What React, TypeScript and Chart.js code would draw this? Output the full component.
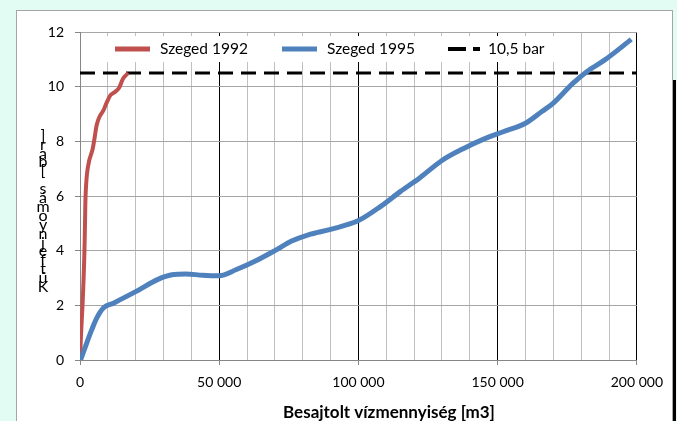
import { useEffect, useRef } from "react";
import { Chart, registerables } from "chart.js";

Chart.register(...registerables);

// ---------- data ----------
const seriesNames = ["Szeged 1992", "Szeged 1995", "10,5 bar"];
const xTitle = "Besajtolt vízmennyiség [m3]";
const yTitle = "Kútfejnyomás [bar]";

const xMin = 0;
const xMax = 200000;
const xMinorStep = 10000;
const xMajorStep = 50000;
const yMin = 0;
const yMax = 12;
const yStep = 2;

const red1992X = [0, 400, 900, 1300, 1600, 1800, 2000, 2500, 3300, 4500, 5200, 6000, 7000, 8500, 9500, 11000, 12500, 14000, 15500, 17300];
const red1992Y = [0, 1, 2, 3, 4, 5, 6, 6.8, 7.3, 7.7, 8.1, 8.6, 8.9, 9.15, 9.4, 9.7, 9.8, 9.95, 10.3, 10.5];

const blue1995X = [200, 2400, 4200, 6000, 8400, 12000, 20000, 28000, 33000, 38000, 44000, 50000, 56000, 63000, 70000, 76000, 82000, 90000, 100000, 108000, 115000, 122000, 130000, 138000, 145000, 152000, 160000, 166000, 170000, 177000, 182000, 188500, 198000];
const blue1995Y = [0, 0.62, 1.1, 1.53, 1.9, 2.08, 2.5, 2.95, 3.12, 3.15, 3.1, 3.08, 3.3, 3.62, 4.0, 4.35, 4.58, 4.78, 5.1, 5.62, 6.16, 6.66, 7.3, 7.75, 8.08, 8.35, 8.66, 9.1, 9.4, 10.12, 10.55, 10.98, 11.73];

const thresholdX = [0, 200000];
const thresholdY = [10.5, 10.5];

// ---------- styles ----------
const RED = "#c0504d";
const BLUE = "#4f81bd";
const FONT = "Lato, 'Open Sans', sans-serif";

const toPoints = (xs: number[], ys: number[]) => xs.map((x, i) => ({ x, y: ys[i] }));

const fmtX = (v: number) => (v === 0 ? "0" : `${Math.round(v / 1000)} 000`);

const overlayPlugin = {
  id: "overlay",
  afterDraw(chart: any) {
    const ctx: CanvasRenderingContext2D = chart.ctx;
    const area = chart.chartArea;
    ctx.save();

    // legend box (inside plot area)
    const ly = area.top + 17;
    ctx.fillStyle = "#ffffff";
    ctx.fillRect(area.left + 20, area.top + 4, 460, 26);

    const items = [
      { x0: area.left + 35, x1: area.left + 70, tx: area.left + 80, color: RED, w: 5, dash: [] as number[] },
      { x0: area.left + 202, x1: area.left + 237, tx: area.left + 247, color: BLUE, w: 5, dash: [] as number[] },
      { x0: area.left + 368, x1: area.left + 400, tx: area.left + 408, color: "#000000", w: 4, dash: [18, 7] },
    ];
    items.forEach((it, i) => {
      ctx.beginPath();
      ctx.strokeStyle = it.color;
      ctx.lineWidth = it.w;
      ctx.lineCap = "butt";
      ctx.setLineDash(it.dash);
      ctx.moveTo(it.x0, ly);
      ctx.lineTo(it.x1, ly);
      ctx.stroke();
      ctx.setLineDash([]);
      ctx.fillStyle = "#000000";
      ctx.font = `15.5px ${FONT}`;
      ctx.textAlign = "left";
      ctx.textBaseline = "middle";
      ctx.fillText(seriesNames[i], it.tx, ly);
    });

    // x-axis title
    ctx.font = `bold 17px ${FONT}`;
    ctx.textAlign = "center";
    ctx.textBaseline = "middle";
    ctx.fillStyle = "#000000";
    ctx.fillText(xTitle, area.left + 309, area.bottom + 53);

    // y-axis title: upright letters stacked from bottom to top
    ctx.font = `16px ${FONT}`;
    ctx.textAlign = "center";
    ctx.textBaseline = "alphabetic";
    const chars = Array.from(yTitle);
    const baseY = area.bottom - 68;
    const step = 8.9;
    chars.forEach((ch, i) => {
      ctx.fillText(ch, area.left - 37, baseY - i * step);
    });

    ctx.restore();
  },
};

export default function App() {
  const canvasRef = useRef<HTMLCanvasElement | null>(null);

  useEffect(() => {
    if (!canvasRef.current) return;
    const chart = new Chart(canvasRef.current, {
      type: "scatter",
      data: {
        datasets: [
          {
            label: seriesNames[2],
            data: toPoints(thresholdX, thresholdY),
            showLine: true,
            borderColor: "#000000",
            borderWidth: 3,
            borderDash: [15, 8],
            pointRadius: 0,
            order: 3,
          },
          {
            label: seriesNames[0],
            data: toPoints(red1992X, red1992Y),
            showLine: true,
            borderColor: RED,
            borderWidth: 4,
            pointRadius: 0,
            tension: 0.3,
            order: 2,
          },
          {
            label: seriesNames[1],
            data: toPoints(blue1995X, blue1995Y),
            showLine: true,
            borderColor: BLUE,
            borderWidth: 5,
            pointRadius: 0,
            cubicInterpolationMode: "monotone",
            order: 1,
          },
        ],
      },
      options: {
        responsive: false,
        maintainAspectRatio: false,
        animation: false,
        layout: { padding: { top: 22, right: 35, left: 0, bottom: 0 } },
        plugins: {
          legend: { display: false },
          tooltip: { enabled: false },
        },
        scales: {
          x: {
            type: "linear",
            min: xMin,
            max: xMax,
            ticks: {
              stepSize: xMinorStep,
              autoSkip: false,
              maxRotation: 0,
              color: "#000000",
              font: { family: FONT, size: 14 },
              padding: 9,
              callback: (v: any) => (Number(v) % xMajorStep === 0 ? fmtX(Number(v)) : ""),
            },
            grid: {
              color: (c: any) => (c.tick && c.tick.value % xMajorStep === 0 ? "#000000" : "#bfbfbf"),
              tickColor: (c: any) => (c.tick && c.tick.value % xMajorStep === 0 ? "#868686" : "rgba(0,0,0,0)"),
              tickLength: 5,
              lineWidth: 1,
            },
            border: { color: "#868686", width: 1 },
            afterFit: (s: any) => {
              s.height = 61;
            },
          },
          y: {
            type: "linear",
            min: yMin,
            max: yMax,
            ticks: {
              stepSize: yStep,
              color: "#000000",
              font: { family: FONT, size: 14 },
              padding: 11,
            },
            grid: {
              color: "#a6a6a6",
              tickColor: "#868686",
              tickLength: 5,
              lineWidth: 1,
            },
            border: { color: "#868686", width: 1 },
            afterFit: (s: any) => {
              s.width = 64;
            },
          },
        },
      },
      plugins: [overlayPlugin],
    });
    return () => chart.destroy();
  }, []);

  return (
    <div
      style={{
        position: "fixed",
        left: 0,
        top: 0,
        width: 677,
        height: 421,
        background: "#e2fbf3",
        overflow: "hidden",
      }}
    >
      <div
        style={{
          position: "absolute",
          left: 16,
          top: 10,
          width: 655,
          height: 420,
          background: "#ffffff",
          borderLeft: "1px solid #a5a5a5",
          borderTop: "1px solid #a5a5a5",
          borderRight: "1px solid #a5a5a5",
        }}
      />
      <div
        style={{
          position: "absolute",
          left: 673,
          top: 80,
          width: 3,
          height: 341,
          background: "#000000",
        }}
      />
      <canvas
        ref={canvasRef}
        width={656}
        height={411}
        style={{ position: "absolute", left: 16, top: 10, width: 656, height: 411 }}
      />
    </div>
  );
}
